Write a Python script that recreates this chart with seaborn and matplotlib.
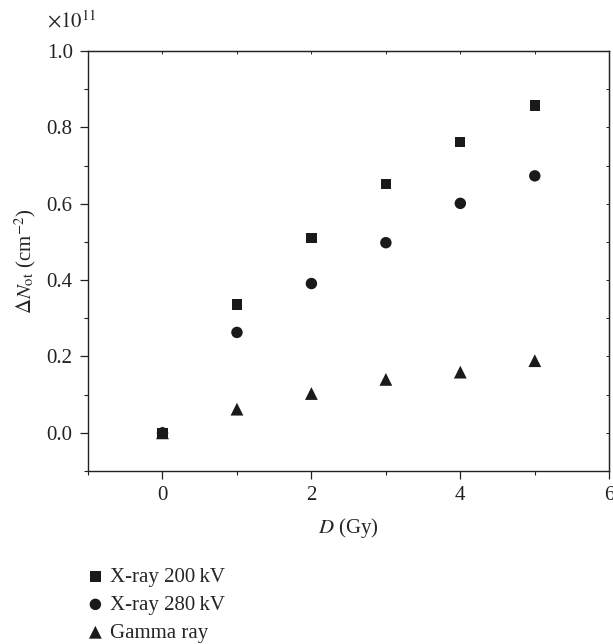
import seaborn as sns
import matplotlib
matplotlib.use('Agg')
import matplotlib.pyplot as plt
import matplotlib.ticker as mticker
import pandas as pd

# dose (Gy) and trapped oxide charge density (cm^-2)
dose = [0, 1, 2, 3, 4, 5]
xray_200 = [0.0, 0.336e11, 0.510e11, 0.652e11, 0.762e11, 0.857e11]
xray_280 = [0.0, 0.263e11, 0.391e11, 0.498e11, 0.601e11, 0.673e11]
gamma = [0.0, 0.062e11, 0.103e11, 0.140e11, 0.159e11, 0.189e11]
labels = ['X-ray 200\u2009kV', 'X-ray 280\u2009kV', 'Gamma ray']

sns.set_style('ticks')
plt.rcParams['font.family'] = ['Liberation Serif', 'DejaVu Serif']
plt.rcParams['mathtext.fontset'] = 'stix'
plt.rcParams['font.size'] = 14.5

df = pd.DataFrame({'D': dose * 3,
                   'N': xray_200 + xray_280 + gamma,
                   'source': [labels[0]] * 6 + [labels[1]] * 6 + [labels[2]] * 6})

fig = plt.figure(figsize=(6.13, 6.44), dpi=100)
ax = fig.add_axes([0.1436, 0.2686, 0.8503, 0.6522])

marks = {labels[0]: 's', labels[1]: 'o', labels[2]: '^'}
sizes = {labels[0]: 55, labels[1]: 68, labels[2]: 85}
for lab in labels:
    sub = df[df['source'] == lab]
    sns.scatterplot(data=sub, x='D', y='N', marker=marks[lab], s=sizes[lab],
                    color='#1a1a1a', edgecolor='none', label=lab, ax=ax)

ax.set_xlim(-1, 6)
ax.set_ylim(-0.1e11, 1.0e11)
ax.xaxis.set_major_locator(mticker.MultipleLocator(2))
ax.xaxis.set_minor_locator(mticker.MultipleLocator(1))
ax.yaxis.set_major_locator(mticker.MultipleLocator(0.2e11))
ax.yaxis.set_minor_locator(mticker.MultipleLocator(0.1e11))
# ticks shown in units of 1e11
ax.yaxis.set_major_formatter(mticker.FuncFormatter(lambda v, p: '%.1f' % (v / 1e11)))
ax.text(-0.079, 1.045, r'$\times 10^{11}$', transform=ax.transAxes, fontsize=15,
        ha='left', va='bottom')

for sp in ax.spines.values():
    sp.set_color('#222222')
    sp.set_linewidth(1.0)

ax.tick_params(axis='both', which='major', direction='out', length=6, width=0.9,
               colors='#222222', labelsize=15, pad=5)
ax.tick_params(axis='both', which='minor', direction='out', length=3, width=0.8,
               colors='#222222')

top = ax.secondary_xaxis('top')
top.xaxis.set_major_locator(mticker.MultipleLocator(1))
top.tick_params(direction='in', length=2, width=0.7, labeltop=False)
right = ax.secondary_yaxis('right')
right.yaxis.set_major_locator(mticker.MultipleLocator(0.1e11))
right.tick_params(direction='in', length=2, width=0.7, labelright=False)

ax.set_xlabel(r'$D$ (Gy)', fontsize=15, labelpad=8)
ax.set_ylabel(r'$\Delta N_{\rm ot}$ (cm$^{-2}$)', fontsize=15, labelpad=6)

ax.get_legend().remove()
h, l = ax.get_legend_handles_labels()
fig.legend(h, l, loc='upper left', bbox_to_anchor=(0.125, 0.132), frameon=False,
           fontsize=15, handletextpad=0.2, labelspacing=0.4, borderaxespad=0,
           handlelength=1.0, markerscale=1.0)

fig.savefig('out.png', dpi=100)
